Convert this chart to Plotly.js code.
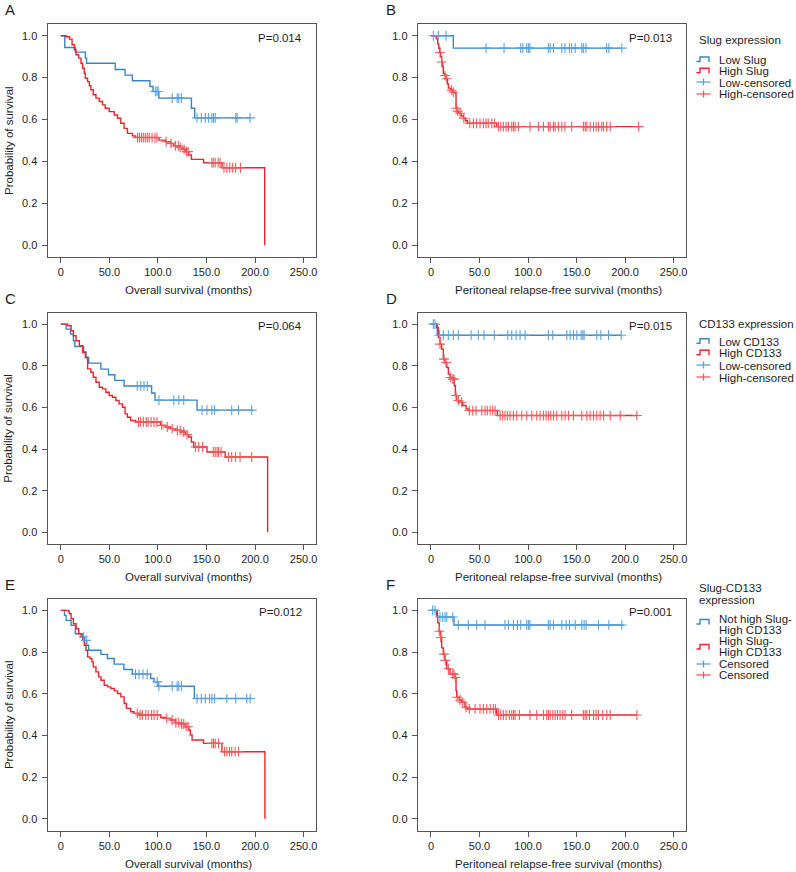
<!DOCTYPE html>
<html>
<head>
<meta charset="utf-8">
<script src="https://cdn.plot.ly/plotly-3.0.1.min.js"></script>
<style>
  html, body { margin: 0; padding: 0; background: #fff; }
  #plot { width: 796px; height: 872px; }
</style>
</head>
<body>
<div id="plot"></div>
<script>
// ---- data (times in months, survival probability) ----
// A: overall survival by Slug
const aLowT = [0, 4.1, 15, 25.3, 26.6, 56, 66.2, 73.7, 91.8, 94.9, 101, 134.5, 137.9, 194.9];
const aLowS = [1, 0.944, 0.922, 0.893, 0.869, 0.839, 0.812, 0.785, 0.758, 0.734, 0.702, 0.654, 0.608, 0.608];
const aLowC = [97.3, 99, 100.3, 114.7, 119.8, 121.5, 124.2, 140.3, 144.7, 148.8, 152.2, 155.6, 157.3, 159, 180.2, 181.6, 194.9];
const aHighT = [0, 5.5, 8.9, 11.6, 14, 15.7, 18.4, 20.8, 22.5, 24.2, 25.3, 27.6, 29.4, 31, 33.4, 36.2, 39.6, 43, 45.7, 49.8, 55, 58.4, 61.8, 65.2, 68.6, 73.7, 77, 101, 107.8, 113, 116.4, 121.5, 125, 128.3, 131.7, 134.5, 147, 166, 210];
const aHighS = [1, 0.995, 0.984, 0.957, 0.933, 0.909, 0.893, 0.869, 0.845, 0.821, 0.797, 0.781, 0.761, 0.742, 0.718, 0.702, 0.686, 0.670, 0.654, 0.638, 0.622, 0.606, 0.582, 0.558, 0.534, 0.522, 0.514, 0.502, 0.494, 0.486, 0.475, 0.467, 0.458, 0.447, 0.431, 0.41, 0.394, 0.370, 0];
const aHighC = [79, 81, 83, 85, 87, 89, 91, 94, 97, 99, 108.5, 113.5, 118, 121, 123, 127, 129.5, 131, 155.6, 157, 159, 162, 164, 168, 171, 174, 177, 180, 185];

// B: peritoneal relapse-free survival by Slug
const bLowT = [0, 23, 196.7];
const bLowS = [1, 0.941, 0.941];
const bLowC = [2.4, 7.6, 15.5, 56.7, 75.3, 92.5, 94.6, 98.7, 100.4, 102, 121, 122.8, 126.2, 134.8, 138, 142.7, 145, 148.6, 155.4, 157, 159.6, 181, 183.3, 196.7];
const bHighT = [0, 5.5, 7, 8, 9, 10, 11, 12, 12.7, 14, 15.5, 17, 18, 20, 22, 24.8, 25.8, 27, 28.2, 31, 33.4, 35.5, 37.5, 67.7, 214];
const bHighS = [1, 0.985, 0.96, 0.94, 0.92, 0.9, 0.875, 0.85, 0.82, 0.81, 0.795, 0.77, 0.75, 0.74, 0.73, 0.726, 0.654, 0.64, 0.63, 0.618, 0.606, 0.594, 0.582, 0.566, 0.566];
const bHighC = [9.3, 11, 14.4, 16.2, 21.3, 23, 26, 27.5, 30, 33.8, 40, 43.7, 47, 50.5, 54, 56.7, 59, 62.6, 65.3, 69.5, 71.9, 74.6, 77.4, 79.8, 83.2, 85, 86.7, 90, 102, 110.7, 115.9, 121, 122.8, 126.2, 127.9, 131.4, 134.8, 138, 145, 157, 158.9, 160.6, 164, 167.5, 170.2, 172.6, 176, 177.8, 181, 184.7, 214];

// C: overall survival by CD133
const cLowT = [0, 5.5, 10, 13, 14.5, 23.5, 26, 28.7, 41.3, 49.1, 55.6, 65.2, 93.5, 97, 140.3, 198];
const cLowS = [1, 0.976, 0.952, 0.92, 0.893, 0.866, 0.84, 0.813, 0.784, 0.757, 0.73, 0.703, 0.669, 0.635, 0.587, 0.587];
const cLowC = [78.8, 82.3, 85.7, 89, 101, 116.4, 121.5, 126.6, 145.4, 150.5, 155.6, 158.4, 176, 183, 196.6];
const cHighT = [0, 5.5, 7.2, 10.6, 13, 15.7, 19.1, 22.5, 25.3, 27.6, 31, 33.4, 36.2, 39.6, 43, 46.4, 49.8, 53.2, 56.7, 60, 63.5, 66.2, 68.6, 72, 77.1, 102.7, 107.8, 113, 118, 123.2, 128.3, 131.7, 134.5, 136.9, 150.5, 169.3, 213];
const cHighS = [1, 1, 0.992, 0.968, 0.944, 0.92, 0.896, 0.864, 0.84, 0.785, 0.769, 0.745, 0.721, 0.697, 0.689, 0.673, 0.657, 0.649, 0.633, 0.617, 0.601, 0.569, 0.553, 0.537, 0.53, 0.514, 0.506, 0.498, 0.49, 0.482, 0.47, 0.458, 0.434, 0.41, 0.386, 0.362, 0];
const cHighC = [80, 82, 85, 88, 90, 93, 96, 99, 104, 109.6, 114.7, 120, 123, 126.6, 130, 138.6, 142, 146, 157, 159, 161, 162.5, 165, 172.7, 176, 180, 184.6, 196.6];

// D: peritoneal relapse-free survival by CD133
const dLowT = [0, 6.5, 196];
const dLowS = [1, 0.947, 0.947];
const dLowC = [2.4, 4.1, 8.6, 12.7, 17.9, 23, 28.2, 41.3, 48.8, 54.7, 65.3, 79.1, 83.2, 87.7, 91.8, 97, 121, 125.5, 140, 143.4, 146.8, 150.3, 154.7, 156.5, 157.8, 170.9, 175, 183, 196];
const dHighT = [0, 5.8, 7.6, 9.3, 11, 12.7, 14.4, 16.2, 17.9, 19.6, 22, 24.1, 25.1, 26.5, 29.2, 32.7, 36.1, 38.5, 68.4, 212.2];
const dHighS = [1, 0.984, 0.936, 0.904, 0.88, 0.832, 0.816, 0.792, 0.76, 0.744, 0.736, 0.704, 0.657, 0.633, 0.625, 0.609, 0.593, 0.585, 0.561, 0.561];
const dHighC = [9.3, 13.4, 15.5, 20.3, 22.4, 23.7, 25.8, 28.2, 31.6, 39.5, 43, 46.4, 52.3, 55.7, 58, 60.9, 63.6, 66, 71.2, 73.9, 76.3, 78.7, 81.5, 85, 88.4, 93.5, 98.7, 103.9, 109, 112.4, 115.9, 118.6, 121, 123.5, 126.2, 129.6, 134.8, 138.2, 141.7, 146.8, 155.4, 160.6, 164, 167.5, 170.9, 174.3, 177.8, 184.7, 195, 212.2];

// E: overall survival by Slug-CD133
const eLowT = [0, 3.8, 5.5, 10.6, 15, 22.5, 24.2, 26.6, 28.7, 41.3, 48, 55, 65, 73.7, 92.5, 96, 100, 137.5, 196.6];
const eLowS = [1, 0.976, 0.952, 0.928, 0.888, 0.872, 0.856, 0.833, 0.809, 0.789, 0.769, 0.742, 0.716, 0.694, 0.673, 0.657, 0.636, 0.577, 0.577];
const eLowC = [23.5, 26, 77, 80.5, 84.6, 89, 99.3, 101, 114.7, 119.8, 121.5, 124.2, 140.3, 144.7, 148.8, 153.2, 155.6, 158.4, 171, 180.2, 191.5, 195];
const eHighT = [0, 8.2, 8.9, 10.6, 13, 15.7, 18.4, 20.8, 22.5, 24.2, 25.9, 27.6, 30, 32, 33.4, 36.2, 38.9, 41.3, 44.7, 48.1, 51.5, 55, 58.4, 61.8, 65.2, 67.6, 72, 75.4, 80.5, 102.7, 107.8, 113, 118, 123.2, 128.3, 131.7, 133.4, 135.2, 147, 165.9, 210.2];
const eHighS = [1, 0.992, 0.984, 0.96, 0.936, 0.912, 0.888, 0.872, 0.856, 0.833, 0.809, 0.777, 0.769, 0.753, 0.729, 0.705, 0.681, 0.665, 0.641, 0.633, 0.625, 0.614, 0.601, 0.585, 0.553, 0.53, 0.514, 0.506, 0.498, 0.486, 0.482, 0.474, 0.461, 0.455, 0.442, 0.426, 0.402, 0.378, 0.362, 0.322, 0];
const eHighC = [78.8, 81.6, 84, 87.4, 90, 93.5, 96, 99.3, 109, 114.7, 118.5, 121.5, 124.2, 126.6, 129, 131, 155.6, 157.3, 159, 162.5, 168.6, 171, 173.7, 176, 179.5, 183];

// F: peritoneal relapse-free survival by Slug-CD133
const fLowT = [0, 6.5, 23.7, 198.4];
const fLowS = [1, 0.968, 0.93, 0.93];
const fLowC = [1.7, 4.1, 9.3, 12, 14.4, 16.2, 22.4, 28.2, 38.5, 47.1, 55.7, 76.3, 79.8, 85, 89, 92.5, 98.7, 100.4, 102, 121, 122.8, 126.2, 134.8, 139.3, 142.7, 148.6, 155.4, 157.8, 159.9, 172.6, 183.3, 196.7];
const fHighT = [0, 5.8, 7, 8.5, 10, 11, 12.7, 14.4, 16.2, 19.6, 24.8, 25.8, 26.5, 29.2, 31.6, 35, 37.5, 67.7, 212.2];
const fHighS = [1, 0.975, 0.94, 0.9, 0.87, 0.82, 0.79, 0.76, 0.72, 0.694, 0.678, 0.615, 0.583, 0.57, 0.559, 0.535, 0.527, 0.498, 0.498];
const fHighC = [8.6, 10, 13.4, 14.8, 17.9, 22.4, 23.7, 25.1, 27, 29.9, 32.7, 36.1, 39.5, 45.4, 50.5, 54, 57.4, 60.9, 64.3, 66.4, 69.5, 71.9, 74.6, 77.4, 80.8, 83.2, 85, 86.7, 91.1, 102, 109, 115.9, 119.3, 121, 122.8, 125.5, 127.9, 130.3, 133, 135.8, 138.2, 145, 157, 158.9, 160.6, 163.3, 167.5, 170.2, 172.6, 177, 181.2, 184.7, 212.2];

// texts
const panelLetters = ['A', 'B', 'C', 'D', 'E', 'F'];
const pValues = ['P=0.014', 'P=0.013', 'P=0.064', 'P=0.015', 'P=0.012', 'P=0.001'];
const xTitleLeft = 'Overall survival (months)';
const xTitleRight = 'Peritoneal relapse-free survival (months)';
const yTitle = 'Probability of survival';
const xTickVals = [0, 50, 100, 150, 200, 250];
const xTickText = ['0', '50.0', '100.0', '150.0', '200.0', '250.0'];
const yTickVals = [0, 0.2, 0.4, 0.6, 0.8, 1.0];
const yTickText = ['0.0', '0.2', '0.4', '0.6', '0.8', '1.0'];
const legendTitle1 = ['Slug expression'];
const legendTitle2 = ['CD133 expression'];
const legendTitle3 = ['Slug-CD133', 'expression'];
const legendLabels1 = [['Low Slug'], ['High Slug'], ['Low-censored'], ['High-censored']];
const legendLabels2 = [['Low CD133'], ['High CD133'], ['Low-censored'], ['High-censored']];
const legendLabels3 = [['Not high Slug-', 'High CD133'], ['High Slug-', 'High CD133'], ['Censored'], ['Censored']];

// ---- styling ----
const W = 796, H = 872;
const BLUE = '#3a83c6', RED = '#e5262b';
const BLUE_C = '#5aa2dc', RED_C = '#ef5a5a';
const FONT = 'Liberation Sans, Arial, sans-serif';
const TXT = '#1e1e1e';

// frame boxes in pixels: [left, right, top, bottom]
const colX = [[47.5, 316], [417.7, 686]];
const rowY = [[24, 257], [312.5, 544], [598.7, 830.5]];

const px = v => v / W;
const py = v => 1 - v / H;

// survival value at time t (step function)
function kmAt(t, times, surv) {
    let s = surv[0];
    for (let i = 0; i < times.length; i++) {
        if (times[i] <= t) s = surv[i];
    }
    return s;
}

const groups = [
    [aLowT, aLowS, aLowC, aHighT, aHighS, aHighC],
    [bLowT, bLowS, bLowC, bHighT, bHighS, bHighC],
    [cLowT, cLowS, cLowC, cHighT, cHighS, cHighC],
    [dLowT, dLowS, dLowC, dHighT, dHighS, dHighC],
    [eLowT, eLowS, eLowC, eHighT, eHighS, eHighC],
    [fLowT, fLowS, fLowC, fHighT, fHighS, fHighC]
];

const data = [];
const layout = {
    width: W, height: H,
    margin: { l: 0, r: 0, t: 0, b: 0 },
    paper_bgcolor: '#fff', plot_bgcolor: '#fff',
    showlegend: false,
    font: { family: FONT, color: TXT, size: 11 },
    annotations: [],
    shapes: []
};

function addText(text, x, y, opts) {
    layout.annotations.push(Object.assign({
        text: text, xref: 'paper', yref: 'paper', x: px(x), y: py(y),
        showarrow: false, xanchor: 'left', yanchor: 'middle',
        font: { family: FONT, size: 11.5, color: TXT }
    }, opts || {}));
}

groups.forEach((g, i) => {
    const n = i + 1;
    const suffix = n === 1 ? '' : String(n);
    const xa = 'x' + suffix, ya = 'y' + suffix;
    const col = i % 2, row = Math.floor(i / 2);
    const [l, r] = colX[col];
    const [t, b] = rowY[row];

    const [lowT, lowS, lowC, highT, highS, highC] = g;

    data.push({
        x: lowT, y: lowS, xaxis: xa, yaxis: ya, mode: 'lines',
        line: { color: BLUE, width: 1.4, shape: 'hv' }, hoverinfo: 'skip'
    });
    data.push({
        x: highT, y: highS, xaxis: xa, yaxis: ya, mode: 'lines',
        line: { color: RED, width: 1.4, shape: 'hv' }, hoverinfo: 'skip'
    });
    data.push({
        x: lowC, y: lowC.map(c => kmAt(c, lowT, lowS)), xaxis: xa, yaxis: ya, mode: 'markers',
        marker: { symbol: 'cross-thin', size: 7, color: BLUE_C, line: { color: BLUE_C, width: 1.1 } },
        hoverinfo: 'skip'
    });
    data.push({
        x: highC, y: highC.map(c => kmAt(c, highT, highS)), xaxis: xa, yaxis: ya, mode: 'markers',
        marker: { symbol: 'cross-thin', size: 7, color: RED_C, line: { color: RED_C, width: 1.1 } },
        hoverinfo: 'skip'
    });

    const axisBase = {
        showline: true, mirror: true, linecolor: '#555', linewidth: 1,
        showgrid: false, zeroline: false, ticks: 'outside', ticklen: 5,
        tickcolor: '#555', tickwidth: 1, fixedrange: true,
        tickfont: { family: FONT, size: 11, color: TXT }
    };
    layout['xaxis' + suffix] = Object.assign({}, axisBase, {
        domain: [px(l), px(r)], anchor: ya, range: [-13.7, 262.8],
        tickmode: 'array', tickvals: xTickVals, ticktext: xTickText
    });
    layout['yaxis' + suffix] = Object.assign({}, axisBase, {
        domain: [py(b), py(t)], anchor: xa, range: [-0.056, 1.056],
        tickmode: 'array', tickvals: yTickVals, ticktext: yTickText,
        ticklabelstandoff: 2
    });

    // panel letter, p value, axis titles
    addText(panelLetters[i], col === 0 ? 3 : 384, t - 14, { font: { family: FONT, size: 15, color: TXT } });
    addText(pValues[i], r - 12.5, t + 13.5, { xanchor: 'right' });
    addText(col === 0 ? xTitleLeft : xTitleRight, (l + r) / 2 + 6.5, b + 33, { xanchor: 'center' });
    if (col === 0) {
        addText(yTitle, 8.5, (t + b) / 2, { xanchor: 'center', textangle: -90 });
    }
});

// hand drawn legends to the right of the right-hand panels
function stepIcon(x0, y, color) {
    layout.shapes.push({
        type: 'path', xref: 'paper', yref: 'paper',
        path: 'M ' + px(x0) + ',' + py(y + 2) + ' L ' + px(x0 + 3.5) + ',' + py(y + 2) +
              ' L ' + px(x0 + 3.5) + ',' + py(y - 2.5) + ' L ' + px(x0 + 12.5) + ',' + py(y - 2.5) +
              ' L ' + px(x0 + 12.5) + ',' + py(y + 2.5),
        line: { color: color, width: 1.4 }
    });
}
function crossIcon(x0, y, color) {
    layout.shapes.push({ type: 'line', xref: 'paper', yref: 'paper',
        x0: px(x0), x1: px(x0 + 14), y0: py(y), y1: py(y), line: { color: color, width: 1.3 } });
    layout.shapes.push({ type: 'line', xref: 'paper', yref: 'paper',
        x0: px(x0 + 7), x1: px(x0 + 7), y0: py(y - 3.5), y1: py(y + 3.5), line: { color: color, width: 1.3 } });
}

function drawLegend(titleLines, labels, titleY, itemY, iconY) {
    const lx = 696.5, tx = 717;
    titleLines.forEach((s, k) => addText(s, lx, titleY + k * 12));
    let lineIdx = 0;
    labels.forEach((lines, k) => {
        const color = (k % 2 === 0) ? (k < 2 ? BLUE : BLUE_C) : (k < 2 ? RED : RED_C);
        if (k < 2) stepIcon(lx, iconY[k], color); else crossIcon(lx, iconY[k], color);
        lines.forEach(s => { addText(s, tx, itemY[lineIdx]); lineIdx++; });
    });
}

drawLegend(legendTitle1, legendLabels1, 40, [60, 71.3, 82.5, 94], [59.5, 70.8, 82, 94]);
drawLegend(legendTitle2, legendLabels2, 324.3, [341.7, 353.3, 365.5, 377.5], [341.2, 352.8, 365, 377]);
drawLegend(legendTitle3, legendLabels3, 587.5, [619.3, 630, 641, 651.7, 664.3, 675.3], [622, 647, 664, 675]);

Plotly.newPlot('plot', data, layout, { staticPlot: true, displayModeBar: false });
</script>
</body>
</html>
